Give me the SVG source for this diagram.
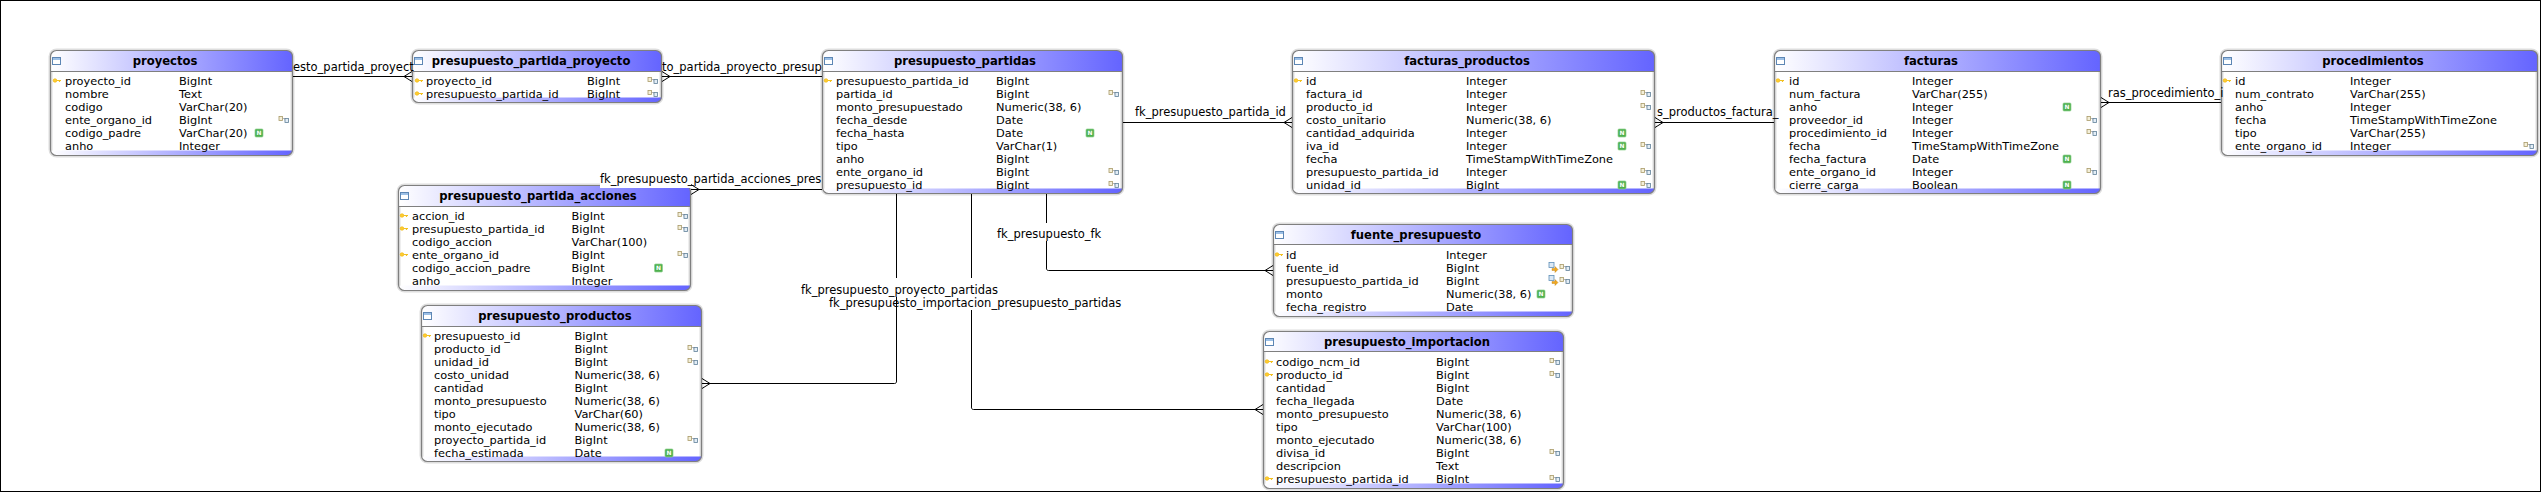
<svg xmlns="http://www.w3.org/2000/svg" width="2542" height="493" viewBox="0 0 2542 493">
<style>
text{font-family:"DejaVu Sans","Liberation Sans",sans-serif;fill:#000}
.r{font-size:11.35px}
.h{font-size:11.6px;font-weight:bold;text-anchor:middle}
.l{font-size:11.5px}
.halo{fill:#fff;stroke:#dedede;stroke-width:4}
.bd{fill:none;stroke:#7f7f7f;stroke-width:1.2}
.sep{stroke:#7f7f7f;stroke-width:1}
.g{fill:url(#grad)}
.c{fill:none;stroke:#000;stroke-width:1}
.cm{marker-end:url(#crow)}
.bg{fill:#fff}
.nt{font-size:6px;font-weight:bold;fill:#fff;text-anchor:middle}
</style>
<defs>
<linearGradient id="grad"><stop offset="0" stop-color="#fff"/><stop offset="1" stop-color="#6464ff"/></linearGradient>
<marker id="crow" markerUnits="userSpaceOnUse" markerWidth="10" markerHeight="12" viewBox="0 0 10 12" refX="9" refY="6" orient="auto"><path d="M1 6L9 1M1 6L9 11" fill="none" stroke="#000" stroke-width="1"/></marker>
<g id="tb"><rect x=".5" y=".5" width="8" height="7" fill="#fff" stroke="#5d86b4"/><rect x="1" y="1" width="7" height="2" fill="#9dc0e6"/></g>
<g id="key"><circle cx="2" cy="0" r="1.8" fill="#fc3" stroke="#eeb400" stroke-width=".6"/><path d="M3.500 0H8M6.500 0V1.600" stroke="#f2c020" stroke-width="1.200" fill="none"/></g>
<g id="fk"><rect x="-5" y="-3" width="3.5" height="4" fill="#f4efd8" stroke="#a89a68" stroke-width=".8"/><path d="M-1.5 -1H1V1" fill="none" stroke="#999" stroke-width=".7"/><rect x="1" y="-1" width="3.5" height="4" fill="#e3edf6" stroke="#5f7f98" stroke-width=".8"/></g>
<g id="nn"><rect x="-4" y="-4" width="8" height="8" rx="1" fill="#4eb04e" stroke="#8ed08e" stroke-width=".7"/><text class="nt" x="0" y="2.2">N</text></g>
<g id="imp"><rect x="-4" y="-5" width="5" height="5" fill="#dbe8f4" stroke="#5f8fb8" stroke-width=".8"/><path d="M-1 1H2V-1L5 2L2 5V3H-1Z" fill="#f0a820" stroke="#b87a10" stroke-width=".4"/></g>
</defs>
<rect width="2542" height="493" fill="#fff"/>
<rect x=".5" y=".5" width="2540" height="491" fill="none" stroke="#000" stroke-width="1"/>

<g id="proyectos">
<rect class="halo" x="50.5" y="50.5" width="242" height="105" rx="6"/>
<path class="g" d="M50.5 71.5V56.5a6 6 0 0 1 6-6H286.5a6 6 0 0 1 6 6V71.5Z"/>
<path class="g" d="M50.5 150.5H292.5a6 5 0 0 1-6 5H56.5a6 5 0 0 1-6-5Z"/>
<path class="sep" d="M50.5 71.5H292.5"/><rect class="bd" x="50.5" y="50.5" width="242" height="105" rx="6"/>
<use href="#tb" x="52" y="57"/><text class="h" x="165" y="65">proyectos</text>
<use href="#key" x="53" y="80.5"/>
<text class="r" x="65" y="85">proyecto_id</text><text class="r" x="179" y="85">BigInt</text>
<text class="r" x="65" y="98">nombre</text><text class="r" x="179" y="98">Text</text>
<text class="r" x="65" y="111">codigo</text><text class="r" x="179" y="111">VarChar(20)</text>
<text class="r" x="65" y="124">ente_organo_id</text><text class="r" x="179" y="124">BigInt</text><use href="#fk" x="284" y="119.5"/>
<text class="r" x="65" y="137">codigo_padre</text><text class="r" x="179" y="137">VarChar(20)</text><use href="#nn" x="259" y="133"/>
<text class="r" x="65" y="150">anho</text><text class="r" x="179" y="150">Integer</text>
</g>

<g id="presupuesto_partida_proyecto">
<rect class="halo" x="412.5" y="50.5" width="249" height="52" rx="6"/>
<path class="g" d="M412.5 71.5V56.5a6 6 0 0 1 6-6H655.5a6 6 0 0 1 6 6V71.5Z"/>
<path class="g" d="M412.5 97.5H661.5a6 5 0 0 1-6 5H418.5a6 5 0 0 1-6-5Z"/>
<path class="sep" d="M412.5 71.5H661.5"/><rect class="bd" x="412.5" y="50.5" width="249" height="52" rx="6"/>
<use href="#tb" x="414" y="57"/><text class="h" x="531" y="65">presupuesto_partida_proyecto</text>
<use href="#key" x="415" y="80.5"/><use href="#key" x="415" y="93.5"/>
<text class="r" x="426" y="85">proyecto_id</text><text class="r" x="587" y="85">BigInt</text><use href="#fk" x="653" y="80.5"/>
<text class="r" x="426" y="98">presupuesto_partida_id</text><text class="r" x="587" y="98">BigInt</text><use href="#fk" x="653" y="93.5"/>
</g>

<g id="presupuesto_partidas">
<rect class="halo" x="822.5" y="50.5" width="300" height="143" rx="6"/>
<path class="g" d="M822.5 71.5V56.5a6 6 0 0 1 6-6H1116.5a6 6 0 0 1 6 6V71.5Z"/>
<path class="g" d="M822.5 188.5H1122.5a6 5 0 0 1-6 5H828.5a6 5 0 0 1-6-5Z"/>
<path class="sep" d="M822.5 71.5H1122.5"/><rect class="bd" x="822.5" y="50.5" width="300" height="143" rx="6"/>
<use href="#tb" x="824" y="57"/><text class="h" x="965" y="65">presupuesto_partidas</text>
<use href="#key" x="824" y="80.5"/>
<text class="r" x="836" y="85">presupuesto_partida_id</text><text class="r" x="996" y="85">BigInt</text>
<text class="r" x="836" y="98">partida_id</text><text class="r" x="996" y="98">BigInt</text><use href="#fk" x="1114" y="93.5"/>
<text class="r" x="836" y="111">monto_presupuestado</text><text class="r" x="996" y="111">Numeric(38, 6)</text>
<text class="r" x="836" y="124">fecha_desde</text><text class="r" x="996" y="124">Date</text>
<text class="r" x="836" y="137">fecha_hasta</text><text class="r" x="996" y="137">Date</text><use href="#nn" x="1090" y="133"/>
<text class="r" x="836" y="150">tipo</text><text class="r" x="996" y="150">VarChar(1)</text>
<text class="r" x="836" y="163">anho</text><text class="r" x="996" y="163">BigInt</text>
<text class="r" x="836" y="176">ente_organo_id</text><text class="r" x="996" y="176">BigInt</text><use href="#fk" x="1114" y="171.5"/>
<text class="r" x="836" y="189">presupuesto_id</text><text class="r" x="996" y="189">BigInt</text><use href="#fk" x="1114" y="184.5"/>
</g>

<g id="facturas_productos">
<rect class="halo" x="1292.5" y="50.5" width="362" height="143" rx="6"/>
<path class="g" d="M1292.5 71.5V56.5a6 6 0 0 1 6-6H1648.5a6 6 0 0 1 6 6V71.5Z"/>
<path class="g" d="M1292.5 188.5H1654.5a6 5 0 0 1-6 5H1298.5a6 5 0 0 1-6-5Z"/>
<path class="sep" d="M1292.5 71.5H1654.5"/><rect class="bd" x="1292.5" y="50.5" width="362" height="143" rx="6"/>
<use href="#tb" x="1294" y="57"/><text class="h" x="1467" y="65">facturas_productos</text>
<use href="#key" x="1294" y="80.5"/>
<text class="r" x="1306" y="85">id</text><text class="r" x="1466" y="85">Integer</text>
<text class="r" x="1306" y="98">factura_id</text><text class="r" x="1466" y="98">Integer</text><use href="#fk" x="1646" y="93.5"/>
<text class="r" x="1306" y="111">producto_id</text><text class="r" x="1466" y="111">Integer</text><use href="#fk" x="1646" y="106.5"/>
<text class="r" x="1306" y="124">costo_unitario</text><text class="r" x="1466" y="124">Numeric(38, 6)</text>
<text class="r" x="1306" y="137">cantidad_adquirida</text><text class="r" x="1466" y="137">Integer</text><use href="#nn" x="1622" y="133"/>
<text class="r" x="1306" y="150">iva_id</text><text class="r" x="1466" y="150">Integer</text><use href="#nn" x="1622" y="146"/><use href="#fk" x="1646" y="145.5"/>
<text class="r" x="1306" y="163">fecha</text><text class="r" x="1466" y="163">TimeStampWithTimeZone</text>
<text class="r" x="1306" y="176">presupuesto_partida_id</text><text class="r" x="1466" y="176">Integer</text><use href="#fk" x="1646" y="171.5"/>
<text class="r" x="1306" y="189">unidad_id</text><text class="r" x="1466" y="189">BigInt</text><use href="#nn" x="1622" y="185"/><use href="#fk" x="1646" y="184.5"/>
</g>

<g id="facturas">
<rect class="halo" x="1774.5" y="50.5" width="326" height="143" rx="6"/>
<path class="g" d="M1774.5 71.5V56.5a6 6 0 0 1 6-6H2094.5a6 6 0 0 1 6 6V71.5Z"/>
<path class="g" d="M1774.5 188.5H2100.5a6 5 0 0 1-6 5H1780.5a6 5 0 0 1-6-5Z"/>
<path class="sep" d="M1774.5 71.5H2100.5"/><rect class="bd" x="1774.5" y="50.5" width="326" height="143" rx="6"/>
<use href="#tb" x="1776" y="57"/><text class="h" x="1931" y="65">facturas</text>
<use href="#key" x="1776" y="80.5"/>
<text class="r" x="1789" y="85">id</text><text class="r" x="1912" y="85">Integer</text>
<text class="r" x="1789" y="98">num_factura</text><text class="r" x="1912" y="98">VarChar(255)</text>
<text class="r" x="1789" y="111">anho</text><text class="r" x="1912" y="111">Integer</text><use href="#nn" x="2067" y="107"/>
<text class="r" x="1789" y="124">proveedor_id</text><text class="r" x="1912" y="124">Integer</text><use href="#fk" x="2092" y="119.5"/>
<text class="r" x="1789" y="137">procedimiento_id</text><text class="r" x="1912" y="137">Integer</text><use href="#fk" x="2092" y="132.5"/>
<text class="r" x="1789" y="150">fecha</text><text class="r" x="1912" y="150">TimeStampWithTimeZone</text>
<text class="r" x="1789" y="163">fecha_factura</text><text class="r" x="1912" y="163">Date</text><use href="#nn" x="2067" y="159"/>
<text class="r" x="1789" y="176">ente_organo_id</text><text class="r" x="1912" y="176">Integer</text><use href="#fk" x="2092" y="171.5"/>
<text class="r" x="1789" y="189">cierre_carga</text><text class="r" x="1912" y="189">Boolean</text><use href="#nn" x="2067" y="185"/>
</g>

<g id="procedimientos">
<rect class="halo" x="2221.5" y="50.5" width="316" height="105" rx="6"/>
<path class="g" d="M2221.5 71.5V56.5a6 6 0 0 1 6-6H2531.5a6 6 0 0 1 6 6V71.5Z"/>
<path class="g" d="M2221.5 150.5H2537.5a6 5 0 0 1-6 5H2227.5a6 5 0 0 1-6-5Z"/>
<path class="sep" d="M2221.5 71.5H2537.5"/><rect class="bd" x="2221.5" y="50.5" width="316" height="105" rx="6"/>
<use href="#tb" x="2223" y="57"/><text class="h" x="2373" y="65">procedimientos</text>
<use href="#key" x="2223" y="80.5"/>
<text class="r" x="2235" y="85">id</text><text class="r" x="2350" y="85">Integer</text>
<text class="r" x="2235" y="98">num_contrato</text><text class="r" x="2350" y="98">VarChar(255)</text>
<text class="r" x="2235" y="111">anho</text><text class="r" x="2350" y="111">Integer</text>
<text class="r" x="2235" y="124">fecha</text><text class="r" x="2350" y="124">TimeStampWithTimeZone</text>
<text class="r" x="2235" y="137">tipo</text><text class="r" x="2350" y="137">VarChar(255)</text>
<text class="r" x="2235" y="150">ente_organo_id</text><text class="r" x="2350" y="150">Integer</text><use href="#fk" x="2529" y="145.5"/>
</g>

<g id="presupuesto_partida_acciones">
<rect class="halo" x="398.5" y="185.5" width="292" height="105" rx="6"/>
<path class="g" d="M398.5 206.5V191.5a6 6 0 0 1 6-6H684.5a6 6 0 0 1 6 6V206.5Z"/>
<path class="g" d="M398.5 285.5H690.5a6 5 0 0 1-6 5H404.5a6 5 0 0 1-6-5Z"/>
<path class="sep" d="M398.5 206.5H690.5"/><rect class="bd" x="398.5" y="185.5" width="292" height="105" rx="6"/>
<use href="#tb" x="400" y="192"/><text class="h" x="538" y="200">presupuesto_partida_acciones</text>
<use href="#key" x="400" y="215.5"/><use href="#key" x="400" y="228.5"/><use href="#key" x="400" y="254.5"/>
<text class="r" x="412" y="220">accion_id</text><text class="r" x="571.500" y="220">BigInt</text><use href="#fk" x="683" y="215.5"/>
<text class="r" x="412" y="233">presupuesto_partida_id</text><text class="r" x="571.500" y="233">BigInt</text><use href="#fk" x="683" y="228.5"/>
<text class="r" x="412" y="246">codigo_accion</text><text class="r" x="571.500" y="246">VarChar(100)</text>
<text class="r" x="412" y="259">ente_organo_id</text><text class="r" x="571.500" y="259">BigInt</text><use href="#fk" x="683" y="254.5"/>
<text class="r" x="412" y="272">codigo_accion_padre</text><text class="r" x="571.500" y="272">BigInt</text><use href="#nn" x="658.500" y="268"/>
<text class="r" x="412" y="285">anho</text><text class="r" x="571.500" y="285">Integer</text>
</g>

<g id="presupuesto_productos">
<rect class="halo" x="421.5" y="305.5" width="280" height="156" rx="6"/>
<path class="g" d="M421.5 326.5V311.5a6 6 0 0 1 6-6H695.5a6 6 0 0 1 6 6V326.5Z"/>
<path class="g" d="M421.5 456.5H701.5a6 5 0 0 1-6 5H427.5a6 5 0 0 1-6-5Z"/>
<path class="sep" d="M421.5 326.5H701.5"/><rect class="bd" x="421.5" y="305.5" width="280" height="156" rx="6"/>
<use href="#tb" x="423" y="312"/><text class="h" x="555" y="320">presupuesto_productos</text>
<use href="#key" x="423" y="335.5"/>
<text class="r" x="434" y="340">presupuesto_id</text><text class="r" x="574.500" y="340">BigInt</text>
<text class="r" x="434" y="353">producto_id</text><text class="r" x="574.500" y="353">BigInt</text><use href="#fk" x="693" y="348.5"/>
<text class="r" x="434" y="366">unidad_id</text><text class="r" x="574.500" y="366">BigInt</text><use href="#fk" x="693" y="361.5"/>
<text class="r" x="434" y="379">costo_unidad</text><text class="r" x="574.500" y="379">Numeric(38, 6)</text>
<text class="r" x="434" y="392">cantidad</text><text class="r" x="574.500" y="392">BigInt</text>
<text class="r" x="434" y="405">monto_presupuesto</text><text class="r" x="574.500" y="405">Numeric(38, 6)</text>
<text class="r" x="434" y="418">tipo</text><text class="r" x="574.500" y="418">VarChar(60)</text>
<text class="r" x="434" y="431">monto_ejecutado</text><text class="r" x="574.500" y="431">Numeric(38, 6)</text>
<text class="r" x="434" y="444">proyecto_partida_id</text><text class="r" x="574.500" y="444">BigInt</text><use href="#fk" x="693" y="439.5"/>
<text class="r" x="434" y="457">fecha_estimada</text><text class="r" x="574.500" y="457">Date</text><use href="#nn" x="669" y="453"/>
</g>

<g id="fuente_presupuesto">
<rect class="halo" x="1273.500" y="224.500" width="299" height="92" rx="6"/>
<path class="g" d="M1273.5 244.5V230.5a6 6 0 0 1 6-6H1566.5a6 6 0 0 1 6 6V244.5Z"/>
<path class="g" d="M1273.5 311.5H1572.5a6 5 0 0 1-6 5H1279.5a6 5 0 0 1-6-5Z"/>
<path class="sep" d="M1273.5 244.5H1572.5"/><rect class="bd" x="1273.5" y="224.5" width="299" height="92" rx="6"/>
<use href="#tb" x="1275" y="231"/><text class="h" x="1416" y="239">fuente_presupuesto</text>
<use href="#key" x="1275" y="254.5"/>
<text class="r" x="1286" y="259">id</text><text class="r" x="1446" y="259">Integer</text>
<text class="r" x="1286" y="272">fuente_id</text><text class="r" x="1446" y="272">BigInt</text><use href="#imp" x="1553" y="267.5"/><use href="#fk" x="1565" y="267.5"/>
<text class="r" x="1286" y="285">presupuesto_partida_id</text><text class="r" x="1446" y="285">BigInt</text><use href="#imp" x="1553" y="280.5"/><use href="#fk" x="1565" y="280.5"/>
<text class="r" x="1286" y="298">monto</text><text class="r" x="1446" y="298">Numeric(38, 6)</text><use href="#nn" x="1541" y="294"/>
<text class="r" x="1286" y="311">fecha_registro</text><text class="r" x="1446" y="311">Date</text>
</g>

<g id="presupuesto_importacion">
<rect class="halo" x="1263.5" y="331.5" width="300" height="157" rx="6"/>
<path class="g" d="M1263.5 351.5V337.5a6 6 0 0 1 6-6H1557.5a6 6 0 0 1 6 6V351.5Z"/>
<path class="g" d="M1263.5 483.5H1563.5a6 5 0 0 1-6 5H1269.5a6 5 0 0 1-6-5Z"/>
<path class="sep" d="M1263.5 351.5H1563.5"/><rect class="bd" x="1263.5" y="331.5" width="300" height="157" rx="6"/>
<use href="#tb" x="1265" y="338"/><text class="h" x="1407" y="346">presupuesto_importacion</text>
<use href="#key" x="1265" y="361.5"/><use href="#key" x="1265" y="374.5"/><use href="#key" x="1265" y="478.5"/>
<text class="r" x="1276" y="366">codigo_ncm_id</text><text class="r" x="1436" y="366">BigInt</text><use href="#fk" x="1555" y="361.5"/>
<text class="r" x="1276" y="379">producto_id</text><text class="r" x="1436" y="379">BigInt</text><use href="#fk" x="1555" y="374.5"/>
<text class="r" x="1276" y="392">cantidad</text><text class="r" x="1436" y="392">BigInt</text>
<text class="r" x="1276" y="405">fecha_llegada</text><text class="r" x="1436" y="405">Date</text>
<text class="r" x="1276" y="418">monto_presupuesto</text><text class="r" x="1436" y="418">Numeric(38, 6)</text>
<text class="r" x="1276" y="431">tipo</text><text class="r" x="1436" y="431">VarChar(100)</text>
<text class="r" x="1276" y="444">monto_ejecutado</text><text class="r" x="1436" y="444">Numeric(38, 6)</text>
<text class="r" x="1276" y="457">divisa_id</text><text class="r" x="1436" y="457">BigInt</text><use href="#fk" x="1555" y="452.5"/>
<text class="r" x="1276" y="470">descripcion</text><text class="r" x="1436" y="470">Text</text>
<text class="r" x="1276" y="483">presupuesto_partida_id</text><text class="r" x="1436" y="483">BigInt</text><use href="#fk" x="1555" y="478.5"/>
</g>

<g id="connectors">
<rect class="bg" x="295" y="55" width="115" height="20"/>
<rect class="bg" x="664" y="55" width="156" height="20"/>
<rect class="bg" x="1125" y="101" width="165" height="20"/>
<rect class="bg" x="1657" y="101" width="115" height="20"/>
<rect class="bg" x="2103" y="81" width="116" height="20"/>
<rect class="bg" x="600" y="168" width="220" height="20"/>
<path class="c cm" d="M293 76.500H412"/>
<path class="c cm" d="M822 76.500H662"/>
<path class="c cm" d="M1123 122.500H1292"/>
<path class="c cm" d="M1774 122.500H1655"/>
<path class="c cm" d="M2221 102.500H2101"/>
<path class="c cm" d="M822 189.500H691"/>
<path class="c" d="M1046.500 194V223"/>
<path class="c cm" d="M1046.500 241V268a2 2 0 0 0 2 2.500H1273"/>
<path class="c" d="M896.500 194V278"/>
<path class="c cm" d="M896.500 297V381a2 2 0 0 1-2 2.500H702"/>
<path class="c" d="M971.500 194V278"/>
<path class="c cm" d="M971.500 310V407a2 2 0 0 0 2 2.500H1263"/>
<text class="l" x="293" y="71">esto_partida_proyect</text>
<text class="l" x="662" y="71">to_partida_proyecto_presup</text>
<text class="l" x="1135" y="116">fk_presupuesto_partida_id</text>
<text class="l" x="1657" y="116">s_productos_factura_</text>
<text class="l" x="2108" y="97">ras_procedimiento_i</text>
<text class="l" x="600" y="183">fk_presupuesto_partida_acciones_pres</text>
<text class="l" x="997" y="238">fk_presupuesto_fk</text>
<text class="l" x="801" y="294">fk_presupuesto_proyecto_partidas</text>
<text class="l" x="829" y="307">fk_presupuesto_importacion_presupuesto_partidas</text>
</g>
</svg>
